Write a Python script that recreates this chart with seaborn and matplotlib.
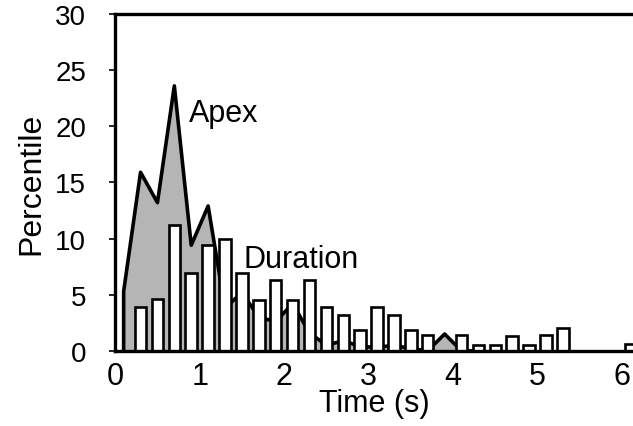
import pandas as pd
import seaborn as sns
import matplotlib.pyplot as plt

# Apex distribution (shaded polygon)
apex_time = [0.1, 0.1, 0.3, 0.5, 0.7, 0.9, 1.1, 1.3, 1.5, 1.7, 1.9, 2.1,
             2.3, 2.5, 2.7, 2.9, 3.1, 3.3, 3.5, 3.7, 3.9, 4.1, 4.3]
apex_pct = [0, 5.3, 15.9, 13.2, 23.6, 9.4, 12.9, 3.8, 5.2, 3.0, 2.6, 4.2,
            1.6, 0.5, 0.9, 0.4, 0.3, 0.5, 0.2, 0.0, 1.5, 0.0, 0.0]

# Duration distribution (open bars)
dur_time = [0.3, 0.5, 0.7, 0.9, 1.1, 1.3, 1.5, 1.7, 1.9, 2.1, 2.3, 2.5, 2.7,
            2.9, 3.1, 3.3, 3.5, 3.7, 4.1, 4.3, 4.5, 4.7, 4.9, 5.1, 5.3, 6.1]
dur_pct = [3.9, 4.6, 11.2, 6.9, 9.4, 10.0, 6.9, 4.5, 6.3, 4.5, 6.3, 3.9, 3.15,
           1.9, 3.9, 3.15, 1.9, 1.4, 1.4, 0.55, 0.55, 1.3, 0.5, 1.4, 2.05, 0.6]

x_ticks = [0, 1, 2, 3, 4, 5, 6]
y_ticks = [0, 5, 10, 15, 20, 25, 30]

apex = pd.DataFrame({"time": apex_time, "pct": apex_pct})
dur = pd.DataFrame({"time": dur_time, "pct": dur_pct})

sns.set_style("ticks")
plt.rcParams["font.family"] = ["Liberation Sans", "DejaVu Sans"]
for key in ["text.color", "axes.labelcolor", "xtick.color", "ytick.color", "axes.edgecolor"]:
    plt.rcParams[key] = "black"

fig = plt.figure(figsize=(6.33, 4.27), dpi=100)
ax = fig.add_axes([0.182, 0.176, 0.818, 0.789])

ax.fill_between(apex["time"], apex["pct"], 0, color="#b5b5b5", zorder=1, lw=0)
sns.lineplot(data=apex, x="time", y="pct", sort=False, estimator=None,
             color="black", linewidth=2.6, ax=ax, zorder=2)
sns.barplot(data=dur, x="time", y="pct", native_scale=True, width=0.68,
            color="white", edgecolor="black", linewidth=1.9, ax=ax, zorder=3)

ax.text(0.875, 20.5, "Apex", fontsize=22, va="baseline", ha="left")
ax.text(1.52, 7.5, "Duration", fontsize=22, va="baseline", ha="left")

ax.set_xlim(0, 6.13)
ax.set_ylim(0, 30)
ax.set_xticks(x_ticks)
ax.set_yticks(y_ticks)
ax.tick_params(axis="y", direction="out", length=4, width=1.2, labelsize=20, pad=17)
ax.tick_params(axis="x", length=0, labelsize=22, pad=7)
ax.set_xlabel("Time (s)", fontsize=22, labelpad=-2)
ax.set_ylabel("Percentile", fontsize=23, labelpad=6)

for side in ["left", "bottom", "top"]:
    ax.spines[side].set_linewidth(2.4)
    ax.spines[side].set_zorder(5)
ax.spines["right"].set_visible(False)

plt.savefig("out.png", dpi=100)
